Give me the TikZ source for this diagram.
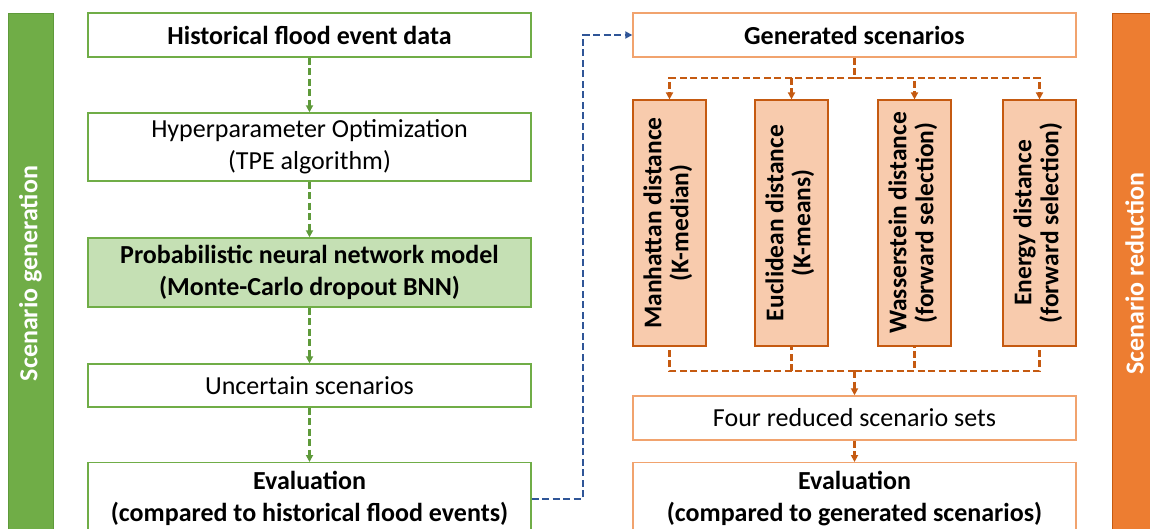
\documentclass[tikz,border=0pt]{standalone}
\usepackage{fontspec}
\setmainfont{Carlito}
\usetikzlibrary{arrows.meta}

\definecolor{gline}{HTML}{70AD47}
\definecolor{garr}{HTML}{5E9A3A}
\definecolor{gfill}{HTML}{C5E0B4}
\definecolor{obar}{HTML}{ED7D31}
\definecolor{oline}{HTML}{F1A36E}
\definecolor{odark}{HTML}{C55A11}
\definecolor{ofill}{HTML}{F8CBAD}
\definecolor{blink}{HTML}{2F5597}

\newcommand{\boxfont}{\fontsize{26}{32}\selectfont}
\tikzset{
  lbox/.style={draw=gline, line width=1.4pt, fill=white, minimum width=443pt,
    align=center, inner sep=0pt, font=\boxfont},
  rbox/.style={draw=oline, line width=1.4pt, fill=white, minimum width=443pt,
    align=center, inner sep=0pt, font=\boxfont},
  heavy/.style={font=\bfseries\boxfont},
  tallbox/.style={draw=odark, line width=1.2pt, fill=ofill, minimum width=73pt,
    minimum height=246pt, inner sep=0pt, font=\bfseries\fontsize{25.5}{27}\selectfont},
  sidebar/.style={line width=1pt, minimum width=45pt, minimum height=520pt,
    anchor=north, inner sep=0pt, text=white, font=\bfseries\fontsize{26}{28}\selectfont},
  tip/.style={-{Triangle[length=7pt,width=7pt]}},
  garrow/.style={tip, draw=garr, line width=2.2pt, dash pattern=on 7pt off 3.5pt},
  olink/.style={draw=odark, line width=2.2pt, dash pattern=on 7pt off 3.5pt},
  oarrow/.style={olink, tip},
  barrow/.style={tip, draw=blink, line width=2.2pt, dash pattern=on 7pt off 3.5pt},
}

\begin{document}
\begin{tikzpicture}[x=1pt, y=-1pt]
\useasboundingbox (0,0) rectangle (1150,529);
\clip (0,0) rectangle (1150,529);

% side bars
\node[sidebar, fill=gline, draw=garr] (genbar) at (30.5,13)
  {\rotatebox{90}{Scenario generation}};
\node[sidebar, fill=obar, draw=odark] (redbar) at (1134.5,13)
  {\rotatebox{90}{Scenario reduction}};

% scenario generation column
\node[lbox, heavy, minimum height=44pt] (hist) at (309.5,35)
  {Historical flood event data};
\node[lbox, minimum height=68pt] (hpo) at (309.5,147)
  {Hyperparameter Optimization\\(TPE algorithm)};
\node[lbox, heavy, fill=gfill, minimum height=69pt] (bnn) at (309.5,272.5)
  {Probabilistic neural network model\\(Monte-Carlo dropout BNN)};
\node[lbox, minimum height=43pt] (unc) at (309.5,385.5)
  {Uncertain scenarios};
\node[lbox, heavy, minimum height=72pt, anchor=north] (evg) at (309.5,462)
  {Evaluation\\(compared to historical flood events)};

\draw[garrow] (hist) -- (hpo);
\draw[garrow] (hpo) -- (bnn);
\draw[garrow] (bnn) -- (unc);
\draw[garrow] (unc) -- (evg);

% scenario reduction column
\node[rbox, heavy, minimum height=44pt] (gen) at (854.5,35)
  {Generated scenarios};
\node[tallbox] (man) at (669.5,223)
  {\rotatebox{90}{\begin{tabular}{@{}c@{}}Manhattan distance\\(K-median)\end{tabular}}};
\node[tallbox] (euc) at (791.5,223)
  {\rotatebox{90}{\begin{tabular}{@{}c@{}}Euclidean distance\\(K-means)\end{tabular}}};
\node[tallbox] (was) at (914.5,223)
  {\rotatebox{90}{\begin{tabular}{@{}c@{}}Wasserstein distance\\(forward selection)\end{tabular}}};
\node[tallbox] (ene) at (1039.5,223)
  {\rotatebox{90}{\begin{tabular}{@{}c@{}}Energy distance\\(forward selection)\end{tabular}}};
\node[rbox, minimum height=44pt] (four) at (854.5,418)
  {Four reduced scenario sets};
\node[rbox, heavy, minimum height=72pt, anchor=north] (evr) at (854.5,462)
  {Evaluation\\(compared to generated scenarios)};

\coordinate (split) at (854.5,78);
\coordinate (merge) at (854.5,371);

\draw[olink] (gen) -- (split);
\foreach \b in {man,euc,was,ene}
  \draw[oarrow] (split) -| (\b.north);
\foreach \b in {man,euc,was,ene}
  \draw[olink] (merge) -| (\b.south);
\draw[oarrow] (merge) -- (four);
\draw[oarrow] (four) -- (evr);

% hand-over from generation to reduction
\draw[barrow] (evg.east) -- ++(51,0) |- (gen.west);
\end{tikzpicture}
\end{document}
